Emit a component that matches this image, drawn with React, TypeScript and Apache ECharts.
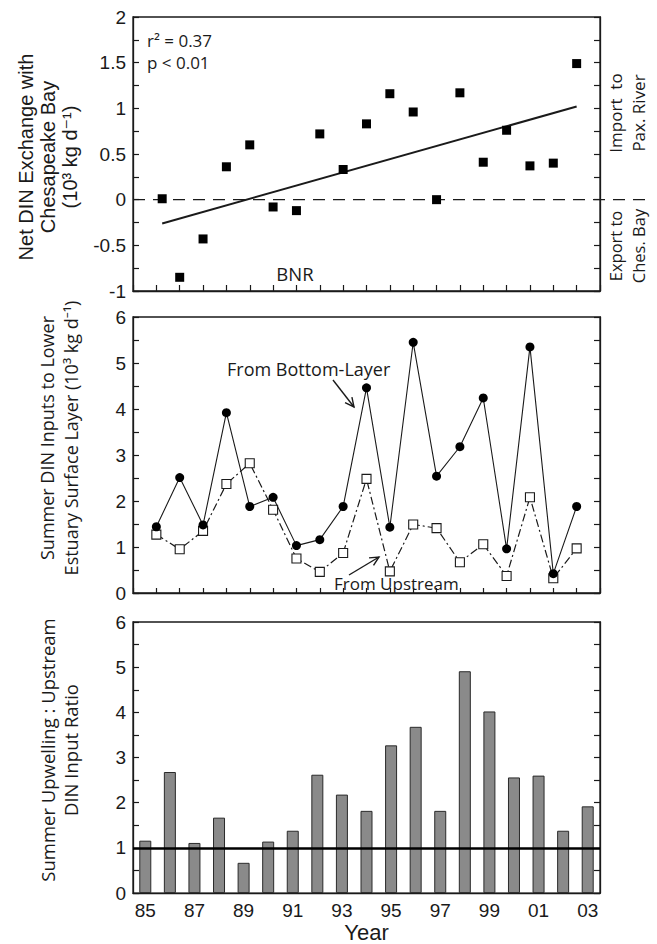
import React, { useEffect, useRef } from "react";
import * as echarts from "echarts";

// ---------- data ----------
const yearLabels = ["85","86","87","88","89","90","91","92","93","94","95","96","97","98","99","00","01","02","03"];
const yearValues = [85,86,87,88,89,90,91,92,93,94,95,96,97,98,99,100,101,102,103];

// Panel 1: net DIN exchange with Chesapeake Bay (10^3 kg/d)
const netYears = [85.25,86,87,88,89,90,91,92,93,94,95,96,97,98,99,100,101,102,103];
const netExchange = [0.01,-0.85,-0.43,0.36,0.6,-0.08,-0.12,0.72,0.33,0.83,1.16,0.96,0.0,1.17,0.41,0.76,0.37,0.4,1.49];
const regressionX = [85.25, 103];
const regressionY = [-0.26, 1.02];

// Panel 2: summer DIN inputs to lower estuary surface layer
const fromBottomLayer = [1.44,2.51,1.48,3.92,1.88,2.08,1.03,1.16,1.88,4.46,1.43,5.45,2.54,3.18,4.24,0.96,5.35,0.42,1.88];
const fromUpstream = [1.27,0.95,1.35,2.37,2.82,1.81,0.75,0.46,0.87,2.48,0.47,1.49,1.41,0.67,1.06,0.37,2.08,0.32,0.97];

// Panel 3: upwelling : upstream ratio
const ratio = [1.16,2.68,1.11,1.67,0.67,1.14,1.38,2.62,2.18,1.82,3.27,3.68,1.82,4.91,4.02,2.56,2.6,1.38,1.92];
const ratioReference = 1;

const INK = "#1a1a1a";
const ARIAL = "'Liberation Sans', Arial, 'DejaVu Sans', sans-serif";
const MYRIAD = "'Open Sans', 'Noto Sans', 'DejaVu Sans', sans-serif";

const GRID_LEFT = 133;
const GRID_W = 467;

function valueY(gridIndex: number, min: number, max: number, interval: number, right: boolean, fmt?: (v: number) => string) {
  return {
    type: "value",
    gridIndex,
    position: right ? "right" : "left",
    min,
    max,
    interval,
    axisLine: { show: true, onZero: false, lineStyle: { color: INK, width: 1.3 } },
    axisTick: { show: true, inside: true, length: 6, lineStyle: { color: INK, width: 1.2 } },
    splitLine: { show: false },
    axisLabel: right
      ? { show: false }
      : { show: true, margin: 7, fontSize: 19, fontFamily: ARIAL, color: INK, formatter: fmt },
  };
}

function arrowParts(x1: number, y1: number, x2: number, y2: number) {
  const ang = Math.atan2(y2 - y1, x2 - x1);
  const L = 10, spread = 0.45;
  const a = [x2 - L * Math.cos(ang - spread), y2 - L * Math.sin(ang - spread)];
  const b = [x2 - L * Math.cos(ang + spread), y2 - L * Math.sin(ang + spread)];
  return [
    { type: "line", shape: { x1, y1, x2, y2 }, style: { stroke: INK, lineWidth: 1.4 } },
    { type: "polyline", shape: { points: [a, [x2, y2], b] }, style: { stroke: INK, lineWidth: 1.4, fill: null } },
  ];
}

function rotText(text: string, x: number, y: number, fontSize: number, family: string, lineHeight: number) {
  return {
    type: "text",
    x,
    y,
    rotation: Math.PI / 2,
    style: { text, fontSize, fontFamily: family, fill: INK, align: "center", verticalAlign: "middle", lineHeight },
  };
}

function plainText(text: string, x: number, y: number, fontSize: number, align = "left") {
  return {
    type: "text",
    x,
    y,
    style: { text, fontSize, fontFamily: MYRIAD, fill: INK, align, verticalAlign: "middle" },
  };
}

export default function App() {
  const ref = useRef<HTMLDivElement>(null);

  useEffect(() => {
    if (!ref.current) return;
    const chart = echarts.init(ref.current, undefined, { renderer: "svg" });

    const halfFmt = (v: number) => (Number.isInteger(v * 2) ? String(v) : "");
    const intFmt = (v: number) => (Number.isInteger(v) ? String(v) : "");

    const gridBase = { left: GRID_LEFT, width: GRID_W, show: true, borderColor: INK, borderWidth: 1.3, backgroundColor: "transparent" };
    const xLine = { show: true, onZero: false, lineStyle: { color: INK, width: 1.3 } };

    chart.setOption({
      animation: false,
      backgroundColor: "#ffffff",
      grid: [
        { ...gridBase, top: 17, height: 274 },
        { ...gridBase, top: 317, height: 276 },
        { ...gridBase, top: 622, height: 273 },
      ],
      xAxis: [
        {
          type: "value", gridIndex: 0, min: 84, max: 104, interval: 1,
          axisLine: xLine,
          axisTick: { show: true, inside: true, length: 6, lineStyle: { color: INK, width: 1.2 } },
          axisLabel: { show: false }, splitLine: { show: false },
        },
        {
          type: "value", gridIndex: 1, min: 84, max: 104, interval: 1,
          axisLine: xLine,
          axisTick: { show: true, inside: true, length: 5, lineStyle: { color: INK, width: 1.2 } },
          axisLabel: { show: false }, splitLine: { show: false },
        },
        {
          type: "category", gridIndex: 2, data: yearLabels, boundaryGap: true,
          axisLine: xLine,
          axisTick: { show: false },
          axisLabel: { show: true, interval: 1, margin: 8, fontSize: 19, fontFamily: ARIAL, color: INK },
          name: "Year", nameLocation: "middle", nameGap: 27,
          nameTextStyle: { fontSize: 22, fontFamily: ARIAL, color: INK },
        },
      ],
      yAxis: [
        valueY(0, -1, 2, 0.25, false, halfFmt),
        valueY(0, -1, 2, 0.25, true),
        valueY(1, 0, 6, 0.5, false, intFmt),
        valueY(1, 0, 6, 0.5, true),
        valueY(2, 0, 6, 0.5, false, intFmt),
        valueY(2, 0, 6, 0.5, true),
      ],
      series: [
        {
          type: "line", xAxisIndex: 0, yAxisIndex: 0, symbol: "none",
          data: regressionX.map((x, i) => [x, regressionY[i]]),
          lineStyle: { color: INK, width: 2 }, z: 2,
        },
        {
          type: "scatter", xAxisIndex: 0, yAxisIndex: 0, symbol: "rect", symbolSize: 9,
          data: netYears.map((x, i) => [x, netExchange[i]]),
          itemStyle: { color: "#000", opacity: 1 }, z: 3,
        },
        {
          type: "line", xAxisIndex: 1, yAxisIndex: 2, symbol: "rect", symbolSize: 9,
          data: yearValues.map((x, i) => [x, fromUpstream[i]]),
          lineStyle: { color: INK, width: 1.2, type: [8, 3, 2, 3] },
          itemStyle: { color: "#ffffff", borderColor: INK, borderWidth: 1.1 }, z: 2,
        },
        {
          type: "line", xAxisIndex: 1, yAxisIndex: 2, symbol: "circle", symbolSize: 9,
          data: yearValues.map((x, i) => [x, fromBottomLayer[i]]),
          lineStyle: { color: INK, width: 1.1 },
          itemStyle: { color: "#000" }, z: 3,
        },
        {
          type: "bar", xAxisIndex: 2, yAxisIndex: 4, barWidth: 12,
          data: ratio,
          itemStyle: { color: "#8a8a8a", borderColor: "#2a2a2a", borderWidth: 1 },
          markLine: {
            silent: true, symbol: ["none", "none"], label: { show: false },
            lineStyle: { color: "#000", width: 2.6, type: "solid" },
            data: [{ yAxis: ratioReference }],
          },
        },
      ],
    });

    const y0 = chart.convertToPixel({ yAxisIndex: 0 }, 0) as number;
    const xStart = chart.convertToPixel({ xAxisIndex: 0 }, 84) as number;

    chart.setOption({
      graphic: [
        {
          type: "line", shape: { x1: xStart, y1: y0, x2: 651, y2: y0 },
          style: { stroke: INK, lineWidth: 1.4, lineDash: [12, 8] }, z: 1,
        },
        rotText("Net DIN Exchange with\nChesapeake Bay\n(10³ kg d⁻¹)", 48, 157, 20, ARIAL, 22),
        rotText("Summer DIN Inputs to Lower\nEstuary Surface Layer (10³ kg d⁻¹)", 59, 438, 18, MYRIAD, 24),
        rotText("Summer Upwelling : Upstream\nDIN Input Ratio", 59, 750, 18.5, MYRIAD, 23),
        rotText("Import  to\nPax. River", 627, 113, 17, MYRIAD, 23),
        rotText("Export to\nChes. Bay", 627, 246, 16.5, MYRIAD, 23),
        plainText("r² = 0.37", 147, 40, 17),
        plainText("p < 0.01", 147, 62, 17),
        plainText("BNR", 295, 273, 18.5, "center"),
        plainText("From Bottom-Layer", 227, 369, 18),
        plainText("From Upstream", 334, 583, 17),
        ...arrowParts(333, 380, 354, 407),
        ...arrowParts(349, 575, 379, 557),
      ],
    });

    return () => chart.dispose();
  }, []);

  return <div ref={ref} style={{ position: "fixed", left: 0, top: 0, width: 657, height: 944 }} />;
}
